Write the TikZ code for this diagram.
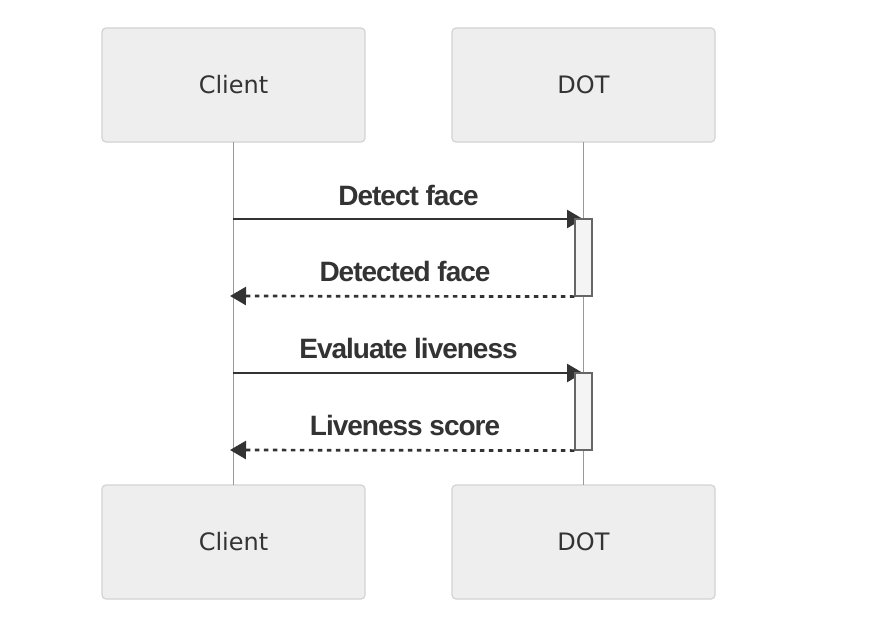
\documentclass[tikz,border=0pt]{standalone}
\usepackage{fontspec}
\usetikzlibrary{arrows.meta}
\newfontfamily\actfont{DejaVu Sans}
\newfontfamily\msgfont{Liberation Sans}[LetterSpace=-3.6]
\definecolor{txt}{HTML}{333333}
\definecolor{boxfill}{HTML}{EEEEEE}
\definecolor{boxline}{HTML}{D3D3D3}
\definecolor{actfill}{HTML}{F4F4F4}
\definecolor{actline}{HTML}{666666}
\definecolor{lifeline}{HTML}{999999}
\tikzset{
  actorbox/.style={draw=boxline, fill=boxfill, line width=1.2pt, rounded corners=4pt,
    minimum width=263pt, minimum height=114pt, inner sep=0pt,
    text height=16pt, text depth=0pt, text=txt,
    font=\actfont\fontsize{24pt}{28pt}\selectfont},
  actbox/.style={draw=actline, fill=actfill, line width=1.2pt, minimum width=17pt,
    minimum height=77pt, inner sep=0pt},
  lifeln/.style={draw=lifeline, line width=1pt},
  msgline/.style={draw=txt, line width=2.7pt, -{Triangle[length=16pt,width=18pt]}},
  retline/.style={msgline, dash pattern=on 4.5pt off 4.5pt},
  msgtext/.style={anchor=base, inner sep=0pt, text=txt,
    font=\msgfont\bfseries\fontsize{28pt}{32pt}\selectfont},
}
\begin{document}
\begin{tikzpicture}[x=1pt,y=-1pt]
\useasboundingbox (0,0) rectangle (875,626);
\fill[white] (0,0) rectangle (875,626);
% participants
\node[actorbox] (c1) at (233.5,85) {Client};
\node[actorbox] (d1) at (583.5,85) {DOT};
\node[actorbox] (c2) at (233.5,542) {Client};
\node[actorbox] (d2) at (583.5,542) {DOT};
% lifelines
\draw[lifeln] (233,142) -- (233,485);
\draw[lifeln] (583,142) -- (583,485);
% activation anchors
\coordinate (a1t) at (583,219);
\coordinate (a2t) at (583,373);
\coordinate (c1a) at (233,219);
\coordinate (c1b) at (230,296);
\coordinate (c2a) at (233,373);
\coordinate (c2b) at (230,450);
% messages
\draw[msgline] (c1a) -- (a1t);
\draw[msgline] (c2a) -- (a2t);
% activation boxes
\node[actbox] (act1) at (583.5,257.5) {};
\node[actbox] (act2) at (583.5,411.5) {};
\draw[retline] (act1.south west) -- (c1b);
\draw[retline] (act2.south west) -- (c2b);
% labels
\node[msgtext] (l1) at (408.5,205) {Detect face};
\node[msgtext] (l2) at (405,281) {Detected face};
\node[msgtext] (l3) at (408.5,358.5) {Evaluate liveness};
\node[msgtext] (l4) at (405,435) {Liveness score};
\end{tikzpicture}
\end{document}
